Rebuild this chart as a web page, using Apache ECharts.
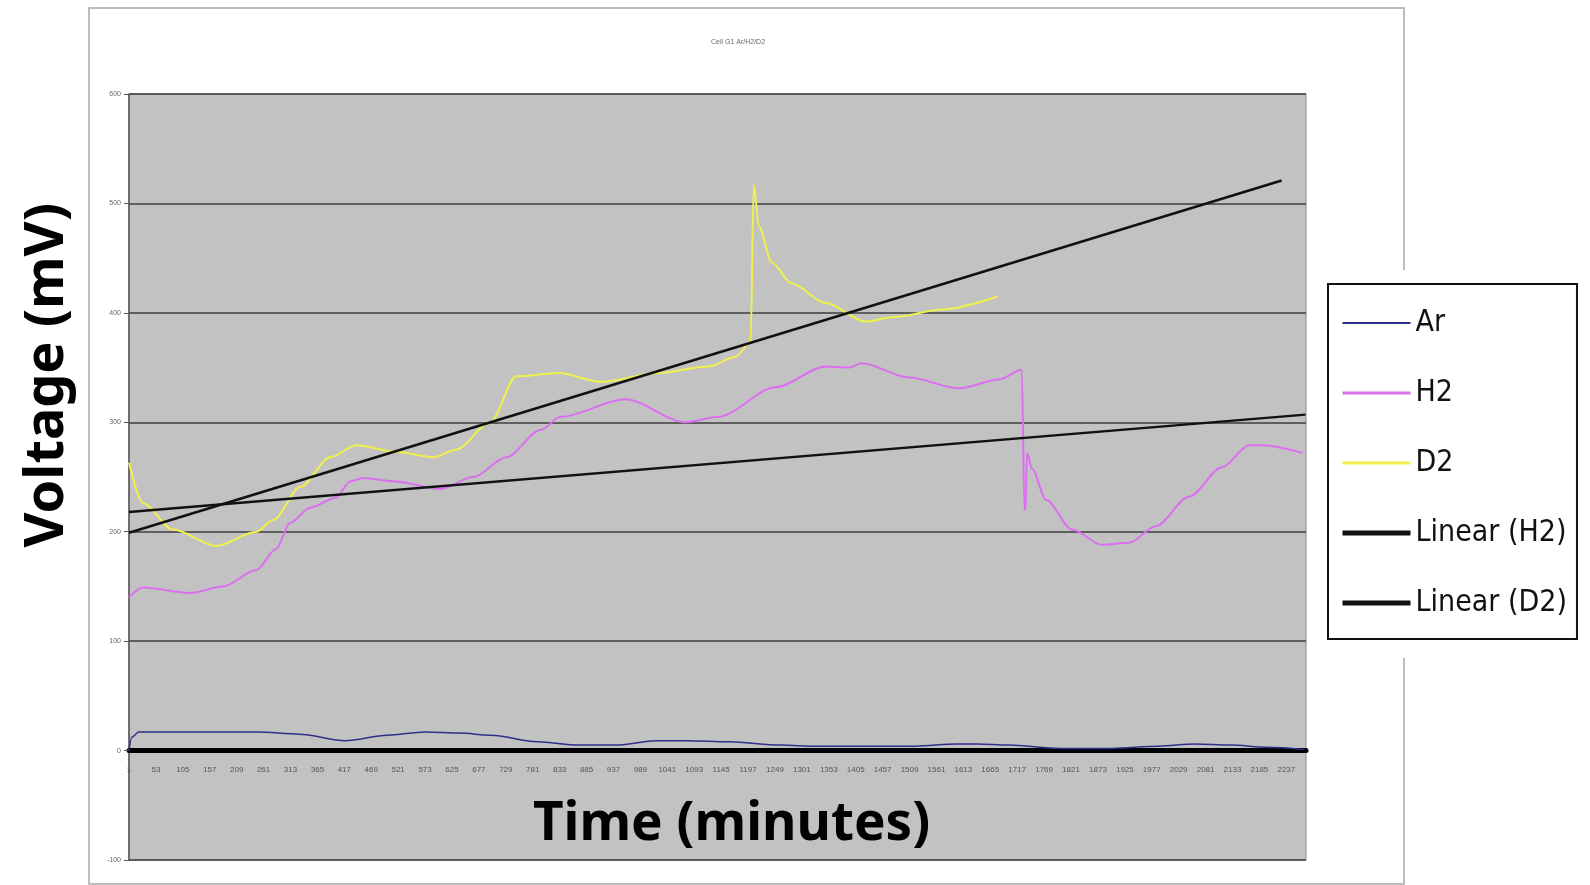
<!DOCTYPE html>
<html lang="en">
<head>
    <meta charset="UTF-8">
    <title>Cell G1 Ar/H2/D2</title>
    <script src="https://cdn.jsdelivr.net/npm/echarts@6/dist/echarts.min.js"></script>
    <style>
        html, body { margin: 0; padding: 0; background: #fff; }
        #charts { width: 1590px; height: 885px; }
    </style>
</head>
<body>
<div id="charts"></div>
<script>
    // time (minutes) / voltage (mV)
    var arTime = [1, 6, 20, 60, 150, 250, 330, 419, 500, 573, 640, 700, 790, 870, 940, 1020, 1080, 1160, 1260, 1330, 1420, 1520, 1600, 1640, 1700, 1800, 1900, 1990, 2060, 2130, 2200, 2272];
    var arVolt = [0, 12, 17, 17, 17, 17, 15, 9, 14, 17, 16, 14, 8, 5, 5, 9, 9, 8, 5, 4, 4, 4, 6, 6, 5, 2, 2, 4, 6, 5, 3, 1];

    var h2Time = [1, 28, 119, 183, 247, 285, 312, 351, 401, 428, 453, 517, 602, 666, 730, 796, 835, 960, 1076, 1140, 1250, 1347, 1392, 1417, 1508, 1604, 1682, 1726, 1731, 1733, 1736, 1746, 1773, 1823, 1881, 1933, 1985, 2049, 2113, 2165, 2190, 2268];
    var h2Volt = [140, 149, 144, 150, 165, 184, 208, 222, 231, 246, 249, 246, 239, 250, 268, 293, 305, 321, 300, 305, 332, 351, 350, 354, 341, 331, 339, 348, 220, 220, 272, 257, 229, 202, 188, 190, 205, 232, 259, 279, 279, 272];

    var d2Time = [1, 28, 86, 169, 247, 280, 332, 390, 440, 517, 589, 633, 699, 749, 831, 914, 1024, 1121, 1173, 1202, 1208, 1218, 1243, 1281, 1347, 1424, 1475, 1572, 1680];
    var d2Volt = [263, 226, 202, 187, 200, 211, 241, 268, 279, 273, 268, 275, 300, 342, 345, 337, 345, 351, 360, 373, 517, 479, 446, 427, 409, 392, 396, 403, 415];

    // end points of the two trend lines
    var trendH2Time = [1, 2274];
    var trendH2Volt = [218, 307];
    var trendD2Time = [1, 2228];
    var trendD2Volt = [199, 521];

    function pairs(xs, ys) {
        var out = [];
        for (var i = 0; i < xs.length; i++) {
            out.push([xs[i], ys[i]]);
        }
        return out;
    }

    var myChart = echarts.init(document.getElementById('charts'));

    var option = {
        animation: false,
        backgroundColor: '#fff',
        title: {
            text: 'Cell G1 Ar/H2/D2',
            left: 733,
            top: 34,
            textAlign: 'center',
            textStyle: { fontSize: 7, fontWeight: 'normal', color: '#666', fontFamily: 'Liberation Sans' }
        },
        graphic: [
            {
                type: 'rect', z: -10,
                shape: { x: 89, y: 8, width: 1315, height: 876 },
                style: { fill: '#fff', stroke: '#a8a8a8', lineWidth: 1.5 }
            },
            {
                type: 'rect', z: -5,
                shape: { x: 1320, y: 270, width: 270, height: 388 },
                style: { fill: '#fff' }
            },
            {
                type: 'text', z: 10,
                left: 21, top: 203,
                rotation: Math.PI / 2,
                style: {
                    text: 'Voltage (mV)',
                    fill: '#000',
                    font: 'bold 54px "Noto Sans"'
                }
            },
            {
                type: 'text', z: 10,
                left: 533, top: 798,
                style: {
                    text: 'Time (minutes)',
                    fill: '#000',
                    font: 'bold 53px "Noto Sans"'
                }
            }
        ],
        legend: {
            orient: 'vertical',
            left: 1328,
            top: 284,
            padding: [21, 10, 18, 12],
            backgroundColor: '#fff',
            borderColor: '#111',
            borderWidth: 2,
            itemWidth: 68,
            itemHeight: 14,
            itemGap: 34,
            itemStyle: { opacity: 0 },
            textStyle: {
                fontSize: 30,
                lineHeight: 36,
                color: '#111',
                fontFamily: '"DejaVu Sans Condensed", sans-serif'
            },
            data: [
                { name: 'Ar', lineStyle: { width: 2 } },
                { name: 'H2', lineStyle: { width: 3 } },
                { name: 'D2', lineStyle: { width: 3 } },
                { name: 'Linear (H2)', lineStyle: { width: 5 } },
                { name: 'Linear (D2)', lineStyle: { width: 5 } }
            ]
        },
        grid: {
            left: 129,
            right: 284,
            top: 94,
            bottom: 25,
            show: true,
            backgroundColor: '#c2c2c2',
            borderColor: '#8a8a8a',
            borderWidth: 1
        },
        xAxis: {
            type: 'value',
            min: 1,
            max: 2275,
            interval: 52,
            axisLine: { show: true, onZero: true, lineStyle: { color: '#000', width: 5 } },
            axisTick: { show: false },
            splitLine: { show: false },
            axisLabel: {
                showMaxLabel: false,
                fontSize: 8,
                color: '#555',
                margin: -94,
                fontFamily: 'Liberation Sans',
                formatter: function (v) { return String(v); }
            }
        },
        yAxis: {
            type: 'value',
            min: -100,
            max: 600,
            interval: 100,
            axisLine: { show: true, lineStyle: { color: '#555', width: 1.5 } },
            axisTick: { show: true, length: 5, lineStyle: { color: '#555' } },
            splitLine: { show: true, lineStyle: { color: '#3c3c3c', width: 1.5 } },
            axisLabel: { fontSize: 7, color: '#666', margin: 8, fontFamily: 'Liberation Sans' }
        },
        series: [
            {
                name: 'Ar', type: 'line', symbol: 'none', smooth: 0.3, smoothMonotone: 'x',
                color: '#2e2e8c',
                lineStyle: { width: 1.5, color: '#2e2e8c' },
                data: pairs(arTime, arVolt)
            },
            {
                name: 'H2', type: 'line', symbol: 'none', smooth: 0.3, smoothMonotone: 'x',
                color: '#dc6ff0',
                lineStyle: { width: 2, color: '#dc6ff0' },
                data: pairs(h2Time, h2Volt)
            },
            {
                name: 'D2', type: 'line', symbol: 'none', smooth: 0.3, smoothMonotone: 'x',
                color: '#f0f04c',
                lineStyle: { width: 2, color: '#f0f04c' },
                data: pairs(d2Time, d2Volt)
            },
            {
                name: 'Linear (H2)', type: 'line', symbol: 'none',
                color: '#111',
                lineStyle: { width: 2.5, color: '#111' },
                data: pairs(trendH2Time, trendH2Volt)
            },
            {
                name: 'Linear (D2)', type: 'line', symbol: 'none',
                color: '#111',
                lineStyle: { width: 2.5, color: '#111' },
                data: pairs(trendD2Time, trendD2Volt)
            }
        ]
    };
    myChart.setOption(option, true);
</script>
</body>
</html>
